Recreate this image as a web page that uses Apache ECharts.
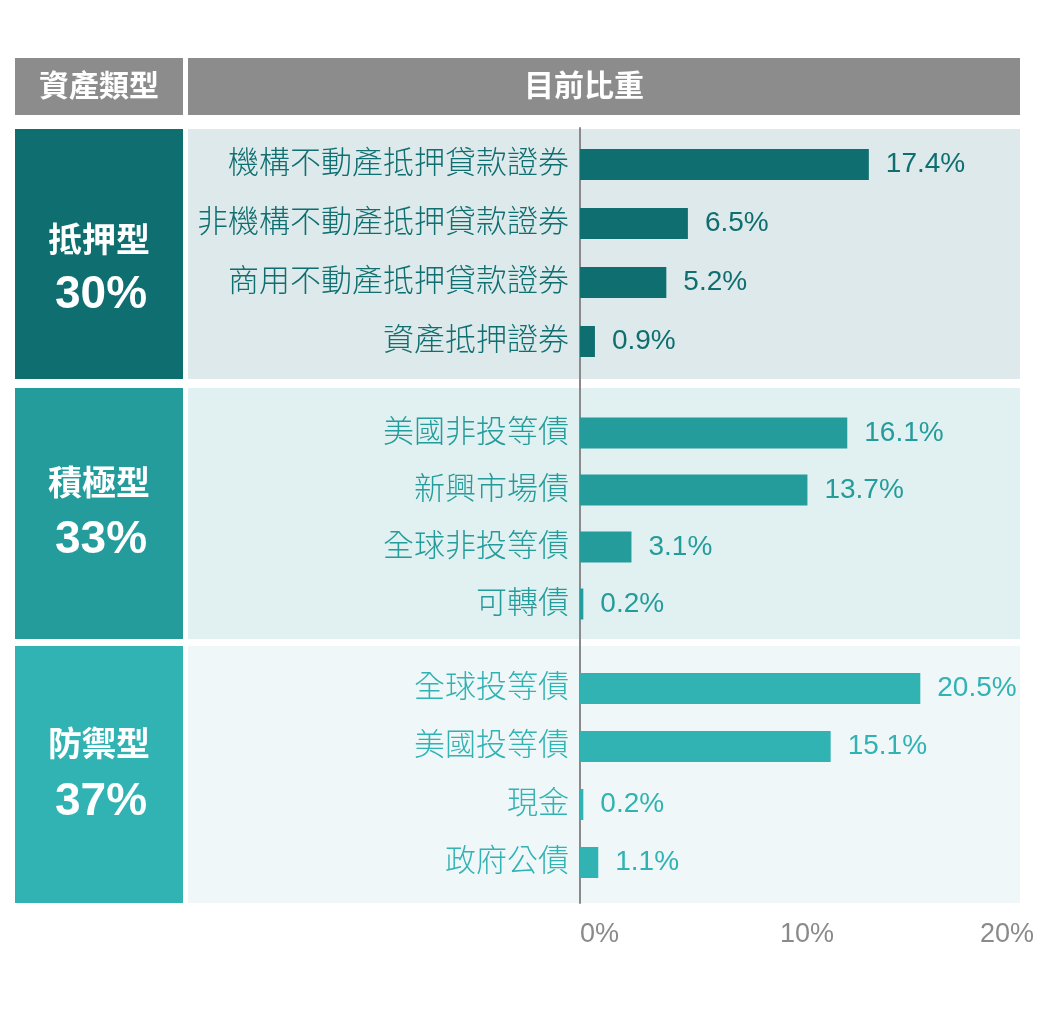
<!DOCTYPE html>
<html><head><meta charset="utf-8">
<script src="https://cdn.jsdelivr.net/npm/echarts@6/dist/echarts.min.js"></script>
<style>html,body{margin:0;padding:0;background:#fff}#c{width:1039px;height:1010px}</style>
</head><body><div id="c"></div>
<script>
const headers = ['資產類型', '目前比重'];
const groupNames = ['抵押型', '積極型', '防禦型'];
const groupShares = ['30%', '33%', '37%'];
const mortgageCats = ['機構不動產抵押貸款證券', '非機構不動產抵押貸款證券', '商用不動產抵押貸款證券', '資產抵押證券'];
const mortgageVals = [17.4, 6.5, 5.2, 0.9];
const aggressiveCats = ['美國非投等債', '新興市場債', '全球非投等債', '可轉債'];
const aggressiveVals = [16.1, 13.7, 3.1, 0.2];
const defensiveCats = ['全球投等債', '美國投等債', '現金', '政府公債'];
const defensiveVals = [20.5, 15.1, 0.2, 1.1];
const tickLabels = ['0%', '10%', '20%'];

const FONT = '"Liberation Sans", "Noto Sans CJK TC", sans-serif';
const groupColors = ['#0f6e70', '#259c9c', '#31b2b3'];
const bgColors = ['#dde9ea', '#e1f0f0', '#eff7f8'];
const boxes = [{ y: 129, h: 250 }, { y: 388, h: 251 }, { y: 646, h: 257 }];
const nameY = [243, 486, 747];
const shareY = [295, 540, 802];
const gridsPos = [{ top: 135, h: 236 }, { top: 404.5, h: 228 }, { top: 659.5, h: 232 }];
const cats = [mortgageCats, aggressiveCats, defensiveCats];
const vals = [mortgageVals, aggressiveVals, defensiveVals];

const graphic = [];
graphic.push({ type: 'rect', shape: { x: 15, y: 58, width: 168, height: 57 }, style: { fill: '#8c8c8c' }, z: -10 });
graphic.push({ type: 'rect', shape: { x: 188, y: 58, width: 832, height: 57 }, style: { fill: '#8c8c8c' }, z: -10 });
graphic.push({ type: 'text', x: 99, y: 88, style: { text: headers[0], fill: '#fff', font: 'bold 30px ' + FONT, textAlign: 'center', textVerticalAlign: 'middle' } });
graphic.push({ type: 'text', x: 584, y: 88, style: { text: headers[1], fill: '#fff', font: 'bold 30px ' + FONT, textAlign: 'center', textVerticalAlign: 'middle' } });
boxes.forEach((b, i) => {
  graphic.push({ type: 'rect', shape: { x: 15, y: b.y, width: 168, height: b.h }, style: { fill: groupColors[i] }, z: -10 });
  graphic.push({ type: 'rect', shape: { x: 188, y: b.y, width: 832, height: b.h }, style: { fill: bgColors[i] }, z: -10 });
  graphic.push({ type: 'text', x: 99, y: nameY[i], style: { text: groupNames[i], fill: '#fff', font: 'bold 34px ' + FONT, textAlign: 'center', textVerticalAlign: 'middle' } });
  graphic.push({ type: 'text', x: 101, y: shareY[i], style: { text: groupShares[i], fill: '#fff', font: 'bold 46px ' + FONT, textAlign: 'center', textVerticalAlign: 'middle' } });
});

const grid = [], xAxis = [], yAxis = [], series = [];
gridsPos.forEach((g, i) => {
  grid.push({ left: 580, top: g.top, width: 415, height: g.h });
  xAxis.push({ gridIndex: i, type: 'value', min: 0, max: 25, show: false });
  yAxis.push({ gridIndex: i, type: 'category', data: cats[i], inverse: true,
    axisLine: { show: false }, axisTick: { show: false }, splitLine: { show: false },
    axisLabel: { color: groupColors[i], fontSize: 31, fontWeight: 300, fontFamily: FONT, margin: 11 } });
  series.push({ type: 'bar', xAxisIndex: i, yAxisIndex: i, data: vals[i], barWidth: 31,
    itemStyle: { color: groupColors[i] }, silent: true,
    label: { show: true, position: 'right', distance: 17, color: groupColors[i], fontSize: 28, fontFamily: FONT, formatter: p => p.value + '%' } });
});
// axis grid: continuous zero line and tick labels
grid.push({ left: 580, top: 128, width: 400, height: 775 });
xAxis.push({ gridIndex: 3, type: 'category', data: tickLabels, boundaryGap: false,
  axisLine: { show: false }, axisTick: { show: false }, splitLine: { show: false },
  axisLabel: { color: '#8a8a8a', fontSize: 27, fontFamily: FONT, align: 'left', margin: 18, showMaxLabel: true, showMinLabel: true, interval: 0 } });
yAxis.push({ gridIndex: 3, type: 'value', min: 0, max: 1,
  axisLine: { show: true, lineStyle: { color: '#8a8a8a', width: 2 } }, axisTick: { show: false },
  axisLabel: { show: false }, splitLine: { show: false } });

const chart = echarts.init(document.getElementById('c'), null, { renderer: 'canvas' });
chart.setOption({ animation: false, backgroundColor: '#fff', graphic, grid, xAxis, yAxis, series });
</script></body></html>
